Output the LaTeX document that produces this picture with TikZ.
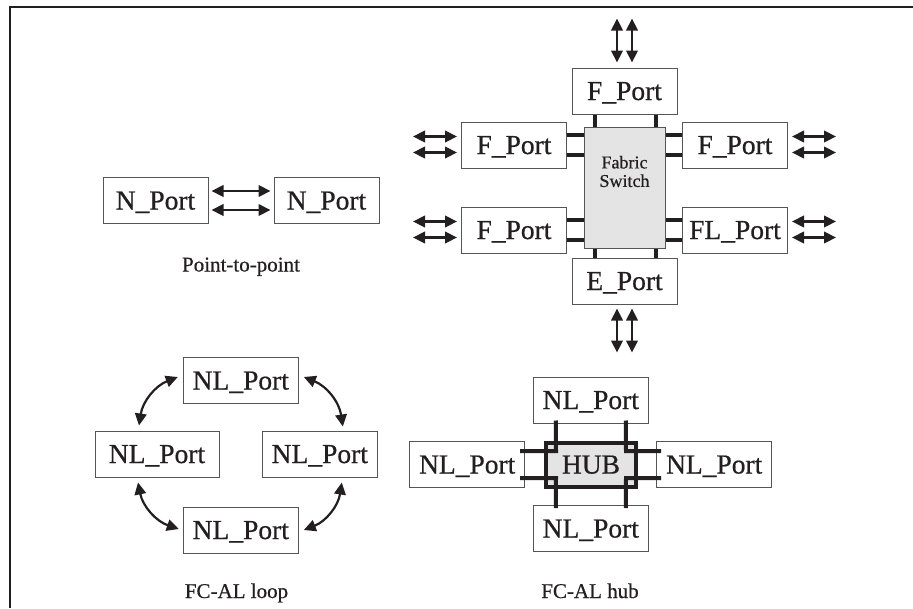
\documentclass[tikz,border=0pt]{standalone}
\usepackage{fontspec}
\setmainfont{Liberation Serif}
\newfontfamily\gar{Liberation Serif}[FakeBold=0.6]
\usetikzlibrary{arrows.meta,calc}
\definecolor{ink}{HTML}{231F20}
\definecolor{boxline}{HTML}{555555}
\definecolor{fillgray}{HTML}{E4E4E4}
\begin{document}
\begin{tikzpicture}[x=1pt,y=-1pt,
  port/.style={draw=boxline,line width=1pt,fill=white,minimum height=46pt,inner sep=0pt,
    text depth=0pt,font=\gar\fontsize{27.5}{30}\selectfont,text=ink},
  bar/.style={line width=4pt,draw=ink,line join=miter},
  dar/.style={line width=2.2pt,draw=ink,{Triangle[length=12pt,width=11.5pt]}-{Triangle[length=12pt,width=11.5pt]}},
  caption/.style={font=\gar\fontsize{21}{24}\selectfont,text=ink,anchor=base,inner sep=0pt}]
\useasboundingbox (0,0) rectangle (913,608);
\draw[line width=1.5pt,ink] (10,608) -- (10,7) -- (913,7);

% ---------- Point-to-point ----------
\node[port,minimum width=105pt] (np1) at (155.5,200.5) {N\_Port};
\node[port,minimum width=105pt] (np2) at (326.5,200.5) {N\_Port};
\draw[dar] ([shift={(3,-9.5)}]np1.east) -- ([shift={(-3,-9.5)}]np2.west);
\draw[dar] ([shift={(3,9.5)}]np1.east) -- ([shift={(-3,9.5)}]np2.west);
\node[caption] (cap1) at (241,271.5) {Point-to-point};

% ---------- Fabric switch ----------
\node[draw=boxline,line width=1pt,fill=fillgray,minimum width=81pt,minimum height=121pt,inner sep=0pt] (fsw) at (624.5,187.5) {};
\node[font=\gar\fontsize{18}{18.5}\selectfont,align=center,text=ink,inner sep=0pt] (fswt) at (624.5,171.5) {Fabric\\Switch};
\node[port,minimum width=105pt] (tf) at (624.5,91) {F\_Port};
\node[port,minimum width=105pt] (lf1) at (514,145) {F\_Port};
\node[port,minimum width=105pt] (rf1) at (735,145) {F\_Port};
\node[port,minimum width=105pt] (lf2) at (514,230) {F\_Port};
\node[port,minimum width=105pt] (rfl) at (735,230) {FL\_Port};
\node[port,minimum width=105pt] (ef) at (624.5,281) {E\_Port};

\foreach \dx in {-30,31} {
  \draw[bar] ($(tf.south)+(\dx,0)$) -- ($(fsw.north)+(\dx,0)$);
  \draw[bar] ($(ef.north)+(\dx,0)$) -- ($(fsw.south)+(\dx,0)$);
}
\foreach \dy in {-10,9.5} {
  \draw[bar] ($(lf1.east)+(0,\dy)$) -- ($(lf1.east -| fsw.west)+(0,\dy)$);
  \draw[bar] ($(rf1.west)+(0,\dy)$) -- ($(rf1.west -| fsw.east)+(0,\dy)$);
  \draw[bar] ($(lf2.east)+(0,\dy)$) -- ($(lf2.east -| fsw.west)+(0,\dy)$);
  \draw[bar] ($(rfl.west)+(0,\dy)$) -- ($(rfl.west -| fsw.east)+(0,\dy)$);
}
\foreach \dx in {-7.5,7.5} {
  \draw[dar] ([shift={(\dx,-5)}]tf.north) -- ++(0,-44);
  \draw[dar] ([shift={(\dx,4)}]ef.south) -- ++(0,44);
}
\foreach \dy in {-8.5,7.5} {
  \draw[dar] ([shift={(-4,\dy)}]lf1.west) -- ++(-44,0);
  \draw[dar] ([shift={(-4,\dy)}]lf2.west) -- ++(-44,0);
  \draw[dar] ([shift={(4,\dy)}]rf1.east) -- ++(44,0);
  \draw[dar] ([shift={(4,\dy)}]rfl.east) -- ++(44,0);
}

% ---------- FC-AL loop ----------
\node[port,minimum width=115pt] (lt) at (240.8,380.5) {NL\_Port};
\node[port,minimum width=124pt] (ll) at (157,454) {NL\_Port};
\node[port,minimum width=115pt] (lr) at (319.8,454) {NL\_Port};
\node[port,minimum width=115pt] (lb) at (240.8,530) {NL\_Port};
\draw[dar] ([shift={(-5,-3.5)}]lt.west) to[bend right=30] ([shift={(-18,-5)}]ll.north);
\draw[dar] ([shift={(5,-3.5)}]lt.east) to[bend left=30] ([shift={(23,-4)}]lr.north);
\draw[dar] ([shift={(-19,5)}]ll.south) to[bend right=30] ([shift={(-4,-1)}]lb.west);
\draw[dar] ([shift={(22,5)}]lr.south) to[bend left=30] ([shift={(5,0)}]lb.east);
\node[caption] (cap2) at (236.5,598) {FC-AL loop};

% ---------- FC-AL hub ----------
\node[port,minimum width=115pt] (ht) at (590.8,400) {NL\_Port};
\node[port,minimum width=115pt] (hl) at (467.2,464.5) {NL\_Port};
\node[port,minimum width=115pt] (hr) at (714.2,464.5) {NL\_Port};
\node[port,minimum width=115pt] (hb) at (590.8,528.5) {NL\_Port};
\node[draw=ink,line width=4pt,fill=fillgray,minimum width=90pt,minimum height=44pt,inner sep=0pt,
  font=\gar\fontsize{27.5}{30}\selectfont,text=ink] (hub) at (591,464.7) {HUB};
\draw[bar] ([shift={(-35,-3)}]ht.south) -- ($(hub.center)+(-35,-13.5)$) -- ([shift={(-5,-13.5)}]hl.east);
\draw[bar] ([shift={(35,-3)}]ht.south) -- ($(hub.center)+(35,-13.5)$) -- ([shift={(5,-13.5)}]hr.west);
\draw[bar] ([shift={(-35,3)}]hb.north) -- ($(hub.center)+(-35,13.5)$) -- ([shift={(-5,13.5)}]hl.east);
\draw[bar] ([shift={(35,3)}]hb.north) -- ($(hub.center)+(35,13.5)$) -- ([shift={(5,13.5)}]hr.west);
\node[caption] (cap3) at (590,598) {FC-AL hub};
\end{tikzpicture}
\end{document}
